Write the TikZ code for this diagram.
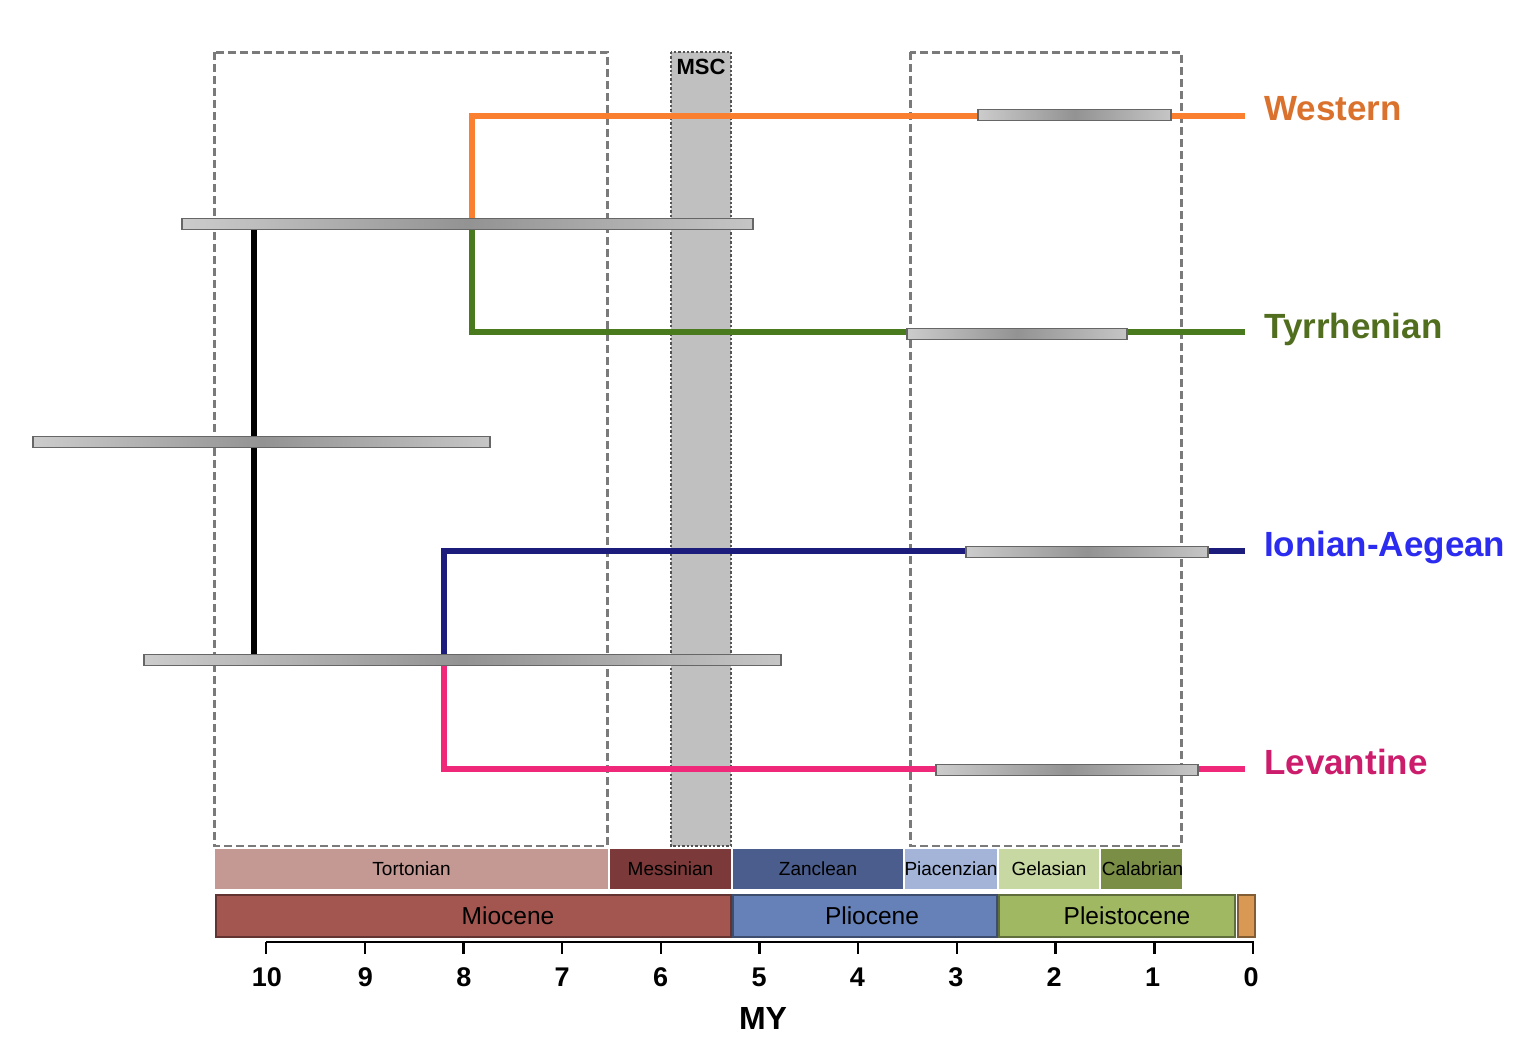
\documentclass[tikz,border=0pt]{standalone}
\usepackage{fontspec}
\setmainfont{Liberation Sans}
\usepackage{tikz}
\usetikzlibrary{positioning}
\definecolor{westline}{RGB}{250,128,48}
\definecolor{westtext}{RGB}{218,114,46}
\definecolor{tyrline}{RGB}{74,122,30}
\definecolor{tyrtext}{RGB}{80,110,30}
\definecolor{ionline}{RGB}{28,28,124}
\definecolor{iontext}{RGB}{44,44,240}
\definecolor{levline}{RGB}{240,40,122}
\definecolor{levtext}{RGB}{204,28,108}
\definecolor{tortcol}{RGB}{196,152,147}
\definecolor{messcol}{RGB}{123,57,57}
\definecolor{zanccol}{RGB}{75,93,140}
\definecolor{piaccol}{RGB}{163,180,216}
\definecolor{gelacol}{RGB}{199,216,163}
\definecolor{calacol}{RGB}{122,142,70}
\definecolor{miocol}{RGB}{163,85,80}
\definecolor{pliocol}{RGB}{102,129,184}
\definecolor{pleicol}{RGB}{160,184,98}
\definecolor{holocol}{RGB}{217,153,84}
\definecolor{msccol}{RGB}{192,192,192}
\definecolor{wincol}{RGB}{122,122,122}

\newcommand{\cibar}[3]{\shade[ci] (#1,{#3-5.5}) rectangle (#2,{#3+5.5});}

\begin{document}
\begin{tikzpicture}[x=1pt, y=-1pt,
    ci/.style={draw=gray!80!black, line width=1.4pt, left color=gray!40, right color=gray!45, middle color=gray!85},
    branch/.style={line width=5.5pt},
    window/.style={draw=wincol, line width=3pt, dash pattern=on 8pt off 4pt},
    stage/.style={draw=white, line width=2pt, font=\fontsize{19}{21}\selectfont},
    epoch/.style={line width=2pt},
    epochlabel/.style={font=\fontsize{24.5}{27}\selectfont},
    clade/.style={anchor=base west, inner sep=0pt, font=\fontsize{35}{40}\selectfont\bfseries}
]
    \useasboundingbox (0,0) rectangle (1528,1058);

    % MSC band
    \fill[msccol] (671,52) rectangle (731,846);
    \draw[gray!65!black, line width=2.4pt, dotted] (671,52) rectangle (731,846);
    \node[font=\fontsize{22}{24}\selectfont\bfseries, inner sep=0pt] (msc) at (701,67) {MSC};

    % Dashed windows
    \draw[window] (214,52) rectangle (607,846);
    \draw[window] (910,52) rectangle (1181,846);

    % Tree nodes and tips
    \coordinate (wt) at (472,224);
    \coordinate (il) at (444,660);
    \coordinate (rtop) at (254,224);
    \coordinate (rbot) at (254,660);
    \coordinate (tipW) at (1245,116);
    \coordinate (tipT) at (1245,332);
    \coordinate (tipI) at (1245,551);
    \coordinate (tipL) at (1245,769);

    % Branches
    \draw[branch, black] (rtop) -- (rbot);
    \draw[branch, westline] (wt) |- (tipW);
    \draw[branch, tyrline] (wt) |- (tipT);
    \draw[branch, ionline] (il) |- (tipI);
    \draw[branch, levline] (il) |- (tipL);

    % Confidence bars
    \cibar{978}{1171}{115}
    \cibar{182}{753}{224}
    \cibar{907}{1127}{334}
    \cibar{33}{490}{442}
    \cibar{966}{1208}{552}
    \cibar{144}{781}{660}
    \cibar{936}{1198}{770}

    % Clade labels
    \node[clade, text=westtext] (west) at (1264,120) {Western};
    \node[clade, text=tyrtext] (tyr) at (1264,338) {Tyrrhenian};
    \node[clade, text=iontext] (ion) at (1264,556) {Ionian-Aegean};
    \node[clade, text=levtext] (lev) at (1264,774) {Levantine};

    % Stages
    \draw[stage, fill=tortcol] (214,848) rectangle node (tort) {Tortonian} (609,890);
    \draw[stage, fill=messcol] (609,848) rectangle node (mess) {Messinian} (732,890);
    \draw[stage, fill=zanccol] (732,848) rectangle node (zanc) {Zanclean} (904,890);
    \draw[stage, fill=piaccol] (904,848) rectangle node (piac) {Piacenzian} (998,890);
    \draw[stage, fill=gelacol] (998,848) rectangle node (gela) {Gelasian} (1100,890);
    \draw[stage, fill=calacol] (1100,848) rectangle node[xshift=1pt] (cala) {Calabrian} (1183,890);

    % Epochs
    \draw[epoch, fill=miocol, draw=miocol!60!black] (216,895) rectangle (731,937);
    \draw[epoch, fill=pliocol, draw=pliocol!60!black] (733,895) rectangle (997,937);
    \draw[epoch, fill=pleicol, draw=pleicol!60!black] (999,895) rectangle (1235,937);
    \draw[epoch, fill=holocol, draw=holocol!60!black] (1238,895) rectangle (1255,937);
    \node[epochlabel] (mio) at (508,916) {Miocene};
    \node[epochlabel] (plio) at (872,916) {Pliocene};
    \node[epochlabel] (plei) at (1127,916) {Pleistocene};

    % Time axis
    \draw[line width=2.4pt] (266,942) -- (1254,942);
    \foreach \t in {0,...,10} {
        \draw[line width=2.4pt] ({1253-98.7*\t},942) -- ({1253-98.7*\t},954);
        \node[font=\fontsize{27}{29}\selectfont\bfseries] (tick\t) at ({1251-98.4*\t},977) {\t};
    }
    \node[font=\fontsize{32}{34}\selectfont\bfseries] (my) at (763,1018) {MY};
\end{tikzpicture}
\end{document}
